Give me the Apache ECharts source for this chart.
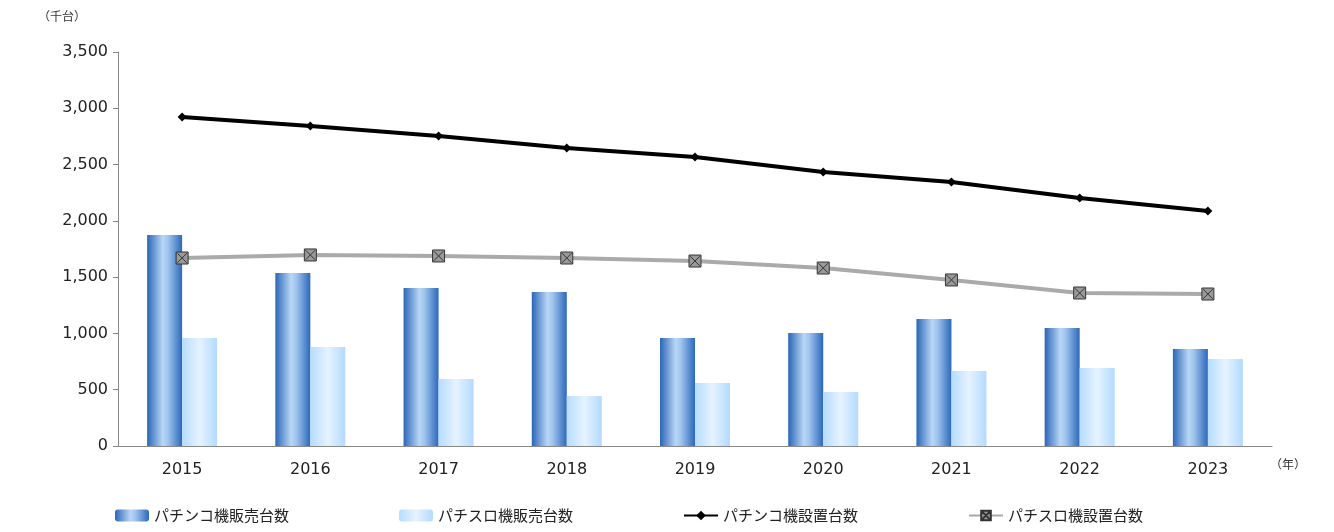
<!DOCTYPE html>
<html><head><meta charset="utf-8">
<script src="https://cdn.jsdelivr.net/npm/echarts@6/dist/echarts.min.js"></script>
<style>html,body{margin:0;padding:0;background:#fff}#c{width:1334px;height:532px}</style>
</head><body><div id="c"></div>
<script>
var years = ['2015','2016','2017','2018','2019','2020','2021','2022','2023'];
var pachinkoSales = [1874,1537,1404,1368,959,1004,1128,1048,862];
var slotSales = [959,879,595,444,560,480,666,693,773];
var pachinkoInstalled = [2923,2843,2754,2647,2567,2434,2345,2203,2088];
var slotInstalled = [1670,1697,1688,1670,1643,1581,1475,1359,1350];

var font = '"Noto Sans CJK JP", "Noto Sans", sans-serif';
var darkGrad = new echarts.graphic.LinearGradient(0,0,1,0,[
	{offset:0,color:'#2a66b8'},{offset:0.45,color:'#b9d6f5'},{offset:0.6,color:'#9ec4ee'},{offset:1,color:'#2c68ba'}]);
var lightGrad = new echarts.graphic.LinearGradient(0,0,1,0,[
	{offset:0,color:'#b5dcff'},{offset:0.5,color:'#e6f3ff'},{offset:1,color:'#b3daff'}]);

var myChart = echarts.init(document.getElementById('c'));
var option = {
	animation:false,
	textStyle:{fontFamily:font},
	grid:{left:118,right:62,top:52,bottom:86},
	graphic:[
		{type:'text',left:38,top:10,style:{text:'（千台）',fontSize:12,fill:'#333',fontFamily:font}},
		{type:'text',left:1270,top:458,style:{text:'（年）',fontSize:12,fill:'#333',fontFamily:font}}
	],
	legend:{
		bottom:4,left:110,itemGap:110,itemWidth:34,itemHeight:12,
		textStyle:{fontSize:15,color:'#222',fontFamily:font},
		data:['パチンコ機販売台数','パチスロ機販売台数','パチンコ機設置台数','パチスロ機設置台数']
	},
	xAxis:{
		type:'category',data:years,
		axisLine:{lineStyle:{color:'#888'}},
		axisTick:{show:false},
		axisLabel:{fontSize:16,color:'#222',margin:16,fontFamily:'Verdana, "DejaVu Sans", sans-serif'}
	},
	yAxis:{
		type:'value',min:0,max:3500,interval:500,
		splitLine:{show:false},
		axisLine:{show:true,lineStyle:{color:'#888'}},
		axisTick:{show:true,length:5,lineStyle:{color:'#888'}},
		axisLabel:{fontSize:16,color:'#222',margin:10,fontFamily:'Verdana, "DejaVu Sans", sans-serif',
			formatter:function(v){return v.toLocaleString('en-US');}}
	},
	series:[
		{name:'パチンコ機販売台数',type:'bar',data:pachinkoSales,barWidth:35,barGap:'0%',
			itemStyle:{color:darkGrad}},
		{name:'パチスロ機販売台数',type:'bar',data:slotSales,barWidth:35,
			itemStyle:{color:lightGrad}},
		{name:'パチンコ機設置台数',type:'line',data:pachinkoInstalled,
			symbol:'diamond',symbolSize:9,
			lineStyle:{color:'#000',width:4},itemStyle:{color:'#000'}},
		{name:'パチスロ機設置台数',type:'line',data:slotInstalled,
			symbol:'path://M0,0L10,0L10,10L0,10Z M1,1L9,9 M9,1L1,9',symbolSize:12,
			lineStyle:{color:'#aaa',width:4},itemStyle:{color:'#999',borderColor:'#333',borderWidth:1}}
	]
};
myChart.setOption(option);
</script>
</body></html>
